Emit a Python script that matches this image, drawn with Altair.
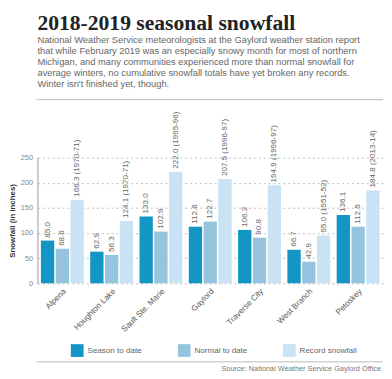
import altair as alt
import pandas as pd

cities = ["Alpena", "Houghton Lake", "Sault Ste. Marie", "Gaylord",
          "Traverse City", "West Branch", "Petoskey"]
season = [85.0, 62.9, 133.0, 112.6, 106.2, 66.7, 136.1]
normal = [68.6, 56.3, 102.9, 122.7, 90.8, 42.9, 112.5]
record = [166.3, 124.1, 222.0, 207.5, 194.9, 95.0, 184.8]
record_years = ["1970-71", "1970-71", "1995-96", "1996-97", "1996-97", "1951-52", "2013-14"]
series_names = ["Season to date", "Normal to date", "Record snowfall"]
series_colors = ["#1496c4", "#96c4de", "#c9e2f4"]
y_ticks = [0, 50, 100, 150, 200, 250]

title_text = "2018-2019 seasonal snowfall"
subtitle_lines = [
    "National Weather Service meteorologists at the Gaylord weather station report",
    "that while February 2019 was an especially snowy month for most of northern",
    "Michigan, and many communities experienced more than normal snowfall for",
    "average winters, no cumulative snowfall totals have yet broken any records.",
    "Winter isn't finished yet, though.",
]
source_text = "Source: National Weather Service Gaylord Office"
y_title = "Snowfall (in inches)"

rows = []
for i, c in enumerate(cities):
    rows.append({"city": c, "series": series_names[0], "value": season[i], "label": f"{season[i]:.1f}"})
    rows.append({"city": c, "series": series_names[1], "value": normal[i], "label": f"{normal[i]:.1f}"})
    rows.append({"city": c, "series": series_names[2], "value": record[i],
                 "label": f"{record[i]:.1f} ({record_years[i]})"})
df = pd.DataFrame(rows)

W, H = 352, 128
FONT = "Liberation Sans"

x_scale = alt.Scale(paddingInner=0.13, paddingOuter=0.07)
y_scale = alt.Scale(domain=[0, 250], nice=False)
xo_scale = alt.Scale(paddingInner=0.1)
x_axis = alt.Axis(labelAngle=-45, labelFontSize=8.2, labelColor="#555555",
                  labelFont=FONT, ticks=False, domain=False, labelPadding=4, grid=False)
y_axis = alt.Axis(values=y_ticks, grid=True, gridDash=[2, 3], gridColor="#bbbbbb",
                  ticks=False, domainColor="#999999", labelColor="#888888",
                  labelFontSize=7.5, labelFont=FONT, labelPadding=5, labelOverlap=False,
                  titleFontSize=8, titleFont=FONT, titleFontWeight="bold",
                  titleColor="#333333", titlePadding=4)


def x_enc():
    return alt.X("city:N", sort=cities, title=None, scale=x_scale, axis=x_axis)


def xo_enc():
    return alt.XOffset("series:N", sort=series_names, scale=xo_scale)


def y_enc():
    return alt.Y("value:Q", title=y_title, scale=y_scale, axis=y_axis)


bars = alt.Chart(df).mark_bar().encode(
    x=x_enc(), xOffset=xo_enc(), y=y_enc(),
    color=alt.Color("series:N", sort=series_names,
                    scale=alt.Scale(domain=series_names, range=series_colors),
                    legend=alt.Legend(title=None, orient="none", legendX=34, legendY=190,
                                      direction="horizontal", symbolType="square",
                                      symbolSize=169, symbolStrokeWidth=0, padding=0,
                                      labelFontSize=8.2, labelFont=FONT, labelColor="#666666",
                                      columnPadding=36, labelOffset=4)),
)

labels = alt.Chart(df).mark_text(angle=270, align="left", baseline="middle", dx=3,
                                 fontSize=8.2, font=FONT, color="#666666").encode(
    x=x_enc(), xOffset=xo_enc(), y=y_enc(), text="label:N")

top_rule = alt.Chart(pd.DataFrame({"a": [0]})).mark_rule(color="#bbbbbb", strokeWidth=1).encode(
    x=alt.value(-1), x2=alt.value(W), y=alt.value(-59))
bottom_rule = alt.Chart(pd.DataFrame({"a": [0]})).mark_rule(color="#bbbbbb", strokeWidth=1).encode(
    x=alt.value(-1), x2=alt.value(W), y=alt.value(208))
source = alt.Chart(pd.DataFrame({"t": [source_text]})).mark_text(
    align="right", baseline="middle", fontSize=7.5, font=FONT, color="#777777").encode(
    x=alt.value(W - 2), y=alt.value(215.5), text="t:N")

chart = alt.layer(bars, labels, top_rule, bottom_rule, source).properties(
    width=W, height=H, padding={"left": 0, "top": 0, "right": 0, "bottom": 0},
    title=alt.TitleParams(text=title_text, subtitle=subtitle_lines, anchor="start", frame="group",
                          font="Liberation Serif", fontSize=22, fontWeight="bold", color="#222222",
                          subtitleFont=FONT, subtitleFontSize=9.5, subtitleColor="#666666",
                          subtitleLineHeight=11.3, subtitlePadding=0, offset=10),
).configure_view(stroke=None).configure_axisY(labelOverlap=False)

chart.save("out.html", embed_options={"renderer": "svg", "actions": False})
